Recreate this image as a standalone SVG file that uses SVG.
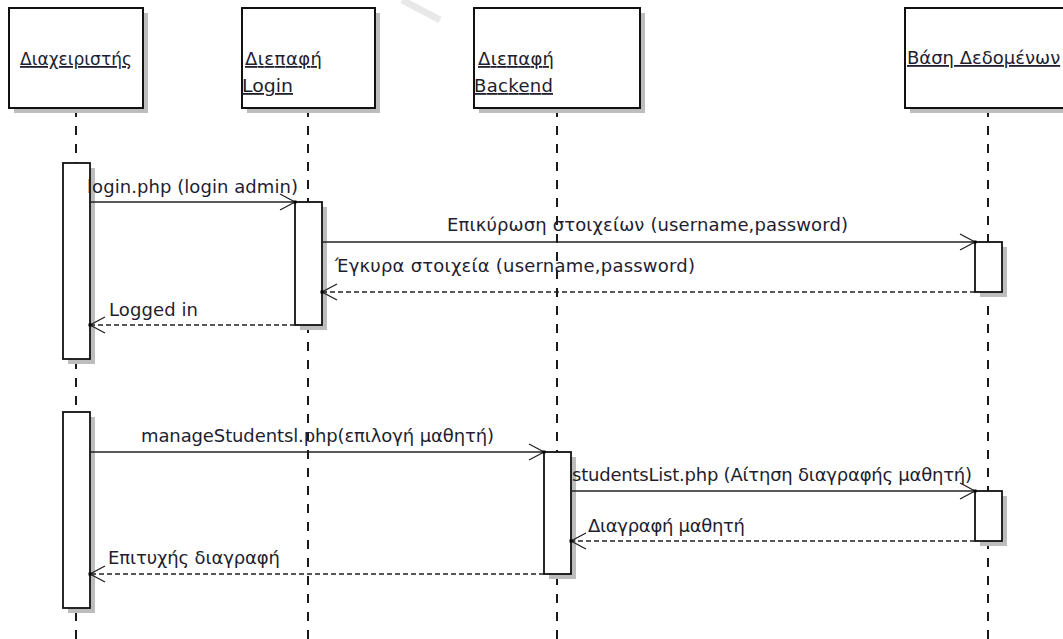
<svg xmlns="http://www.w3.org/2000/svg" width="1063" height="639" viewBox="0 0 1063 639">
  <style>
    text { font-family: "DejaVu Sans", "Liberation Sans", sans-serif; font-size: 18px; fill: #1e1e30; }
    .head { text-decoration: underline; }
    .box { fill: #ffffff; stroke: #111111; stroke-width: 2; }
    .shadow { fill: #bdbdbd; }
    .bar { fill: #ffffff; stroke: #111111; stroke-width: 1.8; }
    .life { fill: none; stroke: #1a1a1a; stroke-width: 2; stroke-dasharray: 9 9; }
    .msg { fill: none; stroke: #222222; stroke-width: 1.4; }
    .ret { fill: none; stroke: #222222; stroke-width: 1.4; stroke-dasharray: 5 3; }
  </style>
  <defs>
    <marker id="open" markerUnits="userSpaceOnUse" markerWidth="20" markerHeight="20" viewBox="-17 -10 20 20" refX="0" refY="0" orient="auto">
      <path d="M-15,-8 L0,0 L-15,8" fill="none" stroke="#222222" stroke-width="1.3"/>
      <rect x="-1.5" y="-1.5" width="3" height="3" fill="#000000"/>
    </marker>
  </defs>
  <rect width="1063" height="639" fill="#ffffff"/>
  <g id="watermark" opacity="0.6">
    <path d="M402,0 L440,20" stroke="#d8d8d8" stroke-width="7" fill="none"/>
  </g>

  <g id="lifelines">
    <path class="life" d="M76,108 V639"/>
    <path class="life" d="M308,108 V639"/>
    <path class="life" d="M557,108 V639"/>
    <path class="life" d="M988,108 V639"/>
  </g>

  <g id="node-admin">
    <rect class="shadow" x="14" y="13" width="134" height="100"/>
    <rect class="box" x="9" y="8" width="134" height="100"/>
    <text class="head" x="20" y="65" textLength="112" lengthAdjust="spacingAndGlyphs">Διαχειριστής</text>
  </g>
  <g id="node-login">
    <rect class="shadow" x="247" y="13" width="133" height="100"/>
    <rect class="box" x="242" y="8" width="133" height="100"/>
    <text class="head" x="245" y="65" textLength="77">Διεπαφή</text>
    <text class="head" x="242" y="92" textLength="51" lengthAdjust="spacingAndGlyphs">Login</text>
  </g>
  <g id="node-backend">
    <rect class="shadow" x="479" y="13" width="166" height="100"/>
    <rect class="box" x="474" y="8" width="166" height="100"/>
    <text class="head" x="478" y="65" textLength="76">Διεπαφή</text>
    <text class="head" x="474" y="92" textLength="79">Backend</text>
  </g>
  <g id="node-db">
    <rect class="shadow" x="910" y="13" width="200" height="100"/>
    <rect class="box" x="905" y="8" width="200" height="100"/>
    <text class="head" x="907" y="64">Βάση Δεδομένων</text>
  </g>

  <g id="activations">
    <rect class="shadow" x="68" y="168" width="27" height="196"/>
    <rect class="bar" x="63" y="163" width="27" height="196"/>
    <rect class="shadow" x="300" y="207" width="27" height="123"/>
    <rect class="bar" x="295" y="202" width="27" height="123"/>
    <rect class="shadow" x="980" y="247" width="27" height="50"/>
    <rect class="bar" x="975" y="242" width="27" height="50"/>
    <rect class="shadow" x="68" y="417" width="27" height="196"/>
    <rect class="bar" x="63" y="412" width="27" height="196"/>
    <rect class="shadow" x="549" y="457" width="27" height="122"/>
    <rect class="bar" x="544" y="452" width="27" height="122"/>
    <rect class="shadow" x="980" y="496" width="27" height="50"/>
    <rect class="bar" x="975" y="491" width="27" height="50"/>
  </g>

  <g id="connectors">
    <path class="msg" d="M90,202 H295" marker-end="url(#open)"/>
    <path class="msg" d="M322,242 H975" marker-end="url(#open)"/>
    <path class="ret" d="M975,292 H322" marker-end="url(#open)"/>
    <path class="ret" d="M295,325 H90" marker-end="url(#open)"/>
    <path class="msg" d="M90,452 H544" marker-end="url(#open)"/>
    <path class="msg" d="M571,491 H975" marker-end="url(#open)"/>
    <path class="ret" d="M975,541 H571" marker-end="url(#open)"/>
    <path class="ret" d="M544,574 H90" marker-end="url(#open)"/>
  </g>

  <g id="labels">
    <text x="87" y="193" textLength="211">login.php (login admin)</text>
    <text x="447" y="231" textLength="401">Επικύρωση στοιχείων (username,password)</text>
    <text x="335" y="272" textLength="360">Έγκυρα στοιχεία (username,password)</text>
    <text x="109" y="316" textLength="89">Logged in</text>
    <text x="141" y="442" textLength="353">manageStudentsl.php(επιλογή μαθητή)</text>
    <text x="572" y="481" textLength="400">studentsList.php (Αίτηση διαγραφής μαθητή)</text>
    <text x="588" y="532" textLength="157">Διαγραφή μαθητή</text>
    <text x="108" y="564" textLength="172">Επιτυχής διαγραφή</text>
  </g>
</svg>
